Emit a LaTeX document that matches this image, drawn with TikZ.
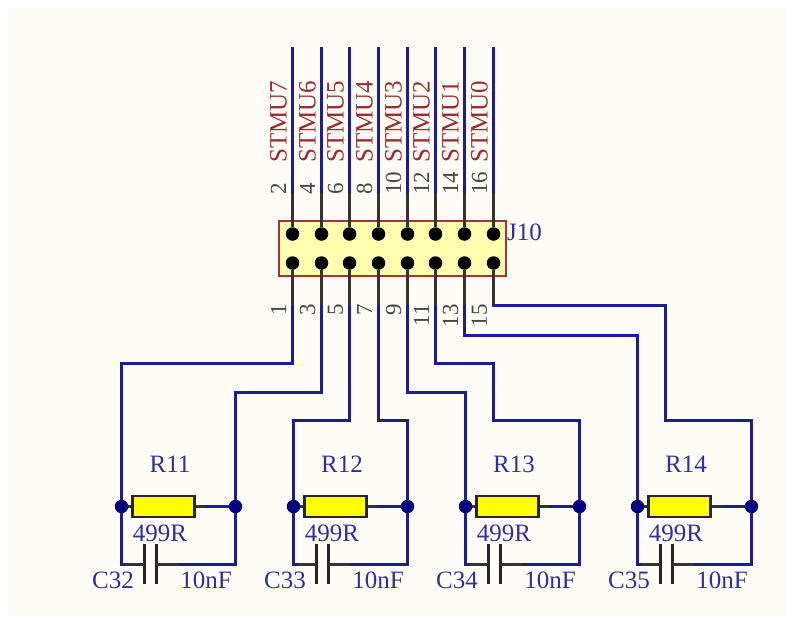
\documentclass[tikz,border=0pt]{standalone}
\usepackage{fontspec}
\setmainfont{Liberation Serif}
\definecolor{sheet}{HTML}{FFFCF7}
\definecolor{wire}{HTML}{1C1C94}
\definecolor{junc}{HTML}{000080}
\definecolor{txtb}{HTML}{30309A}
\definecolor{txtr}{HTML}{9A2C2C}
\definecolor{hdr}{HTML}{FFFFB0}
\definecolor{hdrl}{HTML}{A83232}
\definecolor{res}{HTML}{FFFF00}
\tikzset{
  wireline/.style={draw=wire,line width=2.6pt},
  lead/.style={draw=black!80,line width=2.6pt},
  pindot/.style={circle,fill=black,inner sep=0pt,minimum size=13.5pt},
  juncdot/.style={circle,fill=junc,inner sep=0pt,minimum size=13.5pt},
  header/.style={draw=hdrl,fill=hdr,line width=2pt,inner sep=0pt,minimum width=226.5pt,minimum height=54.5pt},
  resbody/.style={draw=black!85,fill=res,line width=2.6pt,inner sep=0pt,minimum width=61.5pt,minimum height=21pt},
  bluetxt/.style={text=txtb,font=\fontsize{25}{25}\selectfont,inner sep=0pt},
  pintxt/.style={text=black!72,font=\fontsize{23}{23}\selectfont,inner sep=0pt,rotate=90},
  nettxt/.style={text=txtr,font=\fontsize{25}{25}\selectfont,inner sep=0pt,rotate=90,anchor=west},
  plate/.style={draw=black!85,line width=2.6pt},
}
\begin{document}
\begin{tikzpicture}[x=1pt,y=-1pt]
\useasboundingbox (0,0) rectangle (795,626);
\fill[sheet] (8,8) rectangle (786,616);
% header
\node[header] (J) at (392.7,248.7) {};
\node[bluetxt,anchor=west] (Jl) at (507,232) {J10};
% top pins
\foreach \i/\x/\n/\net in {1/292.5/2/STMU7,2/321.5/4/STMU6,3/349.5/6/STMU5,4/378.5/8/STMU4,5/407.5/10/STMU3,6/435.5/12/STMU2,7/464.5/14/STMU1,8/493.5/16/STMU0}{
  \coordinate (t\i) at (\x,47);
  \coordinate (m\i) at (\x,193);
  \draw[wireline] (t\i) -- (m\i);
  \node[pindot] (a\i) at (\x,234) {};
  \draw[lead] (m\i) -- (a\i);
  \node[pintxt,anchor=west] (pt\i) at (\x-14,195) {\n};
  \node[nettxt] (nt\i) at (\x-14,163) {\net};
}
% bottom pins
\foreach \i/\x/\n in {1/292.5/1,2/321.5/3,3/349.5/5,4/378.5/7,5/407.5/9,6/435.5/11,7/464.5/13,8/493.5/15}{
  \coordinate (n\i) at (\x,305);
  \node[pindot] (b\i) at (\x,263) {};
  \draw[lead] (b\i) -- (n\i);
  \node[pintxt,anchor=east] (pb\i) at (\x-14,304) {\n};
}
% resistor / capacitor groups
\foreach \g/\o/\rn/\cn in {1/0/R11/C32,2/172/R12/C33,3/344/R13/C34,4/516/R14/C35}{
  \begin{scope}[xshift=\o pt]
    \node[juncdot] (l\g) at (121.5,506.5) {};
    \node[juncdot] (r\g) at (235.5,506.5) {};
    \node[resbody] (R\g) at (163.5,506.5) {};
    \coordinate (rl\g) at (205,506.5);
    \draw[lead] (l\g) -- (R\g);
    \draw[lead] (R\g) -- (rl\g);
    \draw[wireline] (rl\g) -- (r\g);
    \coordinate (c1\g) at (144,564.5);
    \coordinate (c2\g) at (156,564.5);
    \coordinate (cl\g) at (125,564.5);
    \coordinate (cr\g) at (178,564.5);
    \coordinate (bl\g) at (121.5,564.5);
    \coordinate (br\g) at (235.5,564.5);
    \draw[plate] (144.5,544) -- (144.5,584);
    \draw[plate] (156.5,544) -- (156.5,584);
    \draw[lead] (cl\g) -- (c1\g);
    \draw[lead] (c2\g) -- (cr\g);
    \draw[wireline,line join=miter] (l\g) -- (bl\g) -- (cl\g);
    \draw[wireline,line join=miter] (r\g) -- (br\g) -- (cr\g);
    \node[bluetxt] (rn\g) at (170,464) {\rn};
    \node[bluetxt] (rv\g) at (160,533) {499R};
    \node[bluetxt] (cn\g) at (113,580) {\cn};
    \node[bluetxt] (cv\g) at (206,580) {10nF};
  \end{scope}
}
% routing
\draw[wireline] (n1) |- (121.5,363.5) -- (l1);
\draw[wireline] (n2) |- (235.5,392.5) -- (r1);
\draw[wireline] (n3) |- (293.5,420.5) -- (l2);
\draw[wireline] (n4) |- (407.5,420.5) -- (r2);
\draw[wireline] (n5) |- (465.5,392.5) -- (l3);
\draw[wireline] (n6) |- (493.5,363.5) |- (579.5,420.5) -- (r3);
\draw[wireline] (n7) |- (637.5,335.5) -- (l4);
\draw[wireline] (n8) |- (665.5,305.5) |- (751.5,420.5) -- (r4);
\end{tikzpicture}
\end{document}
